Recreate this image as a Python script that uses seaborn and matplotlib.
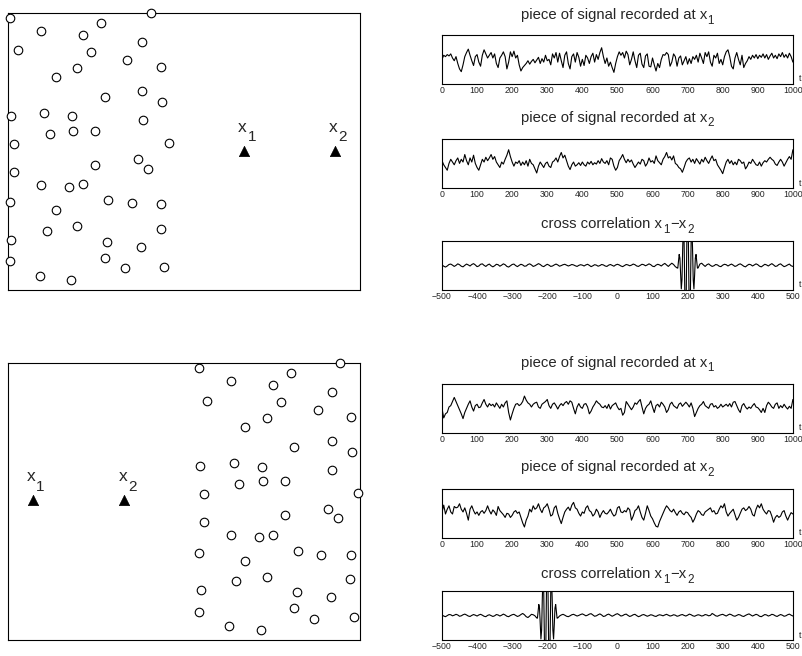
import numpy as np
import matplotlib
matplotlib.use('Agg')
import matplotlib.pyplot as plt
from matplotlib.transforms import Bbox
import seaborn as sns

# --- source / receiver geometry (box coordinates, x 0-10, y 0-7.87) ---
top_src_x = [0.07, 4.06, 0.93, 2.65, 2.13, 3.82, 0.28, 2.37, 3.39, 1.96, 4.36, 1.37,
             3.81, 2.75, 4.39, 0.08, 1.02, 1.82, 3.84, 1.18, 1.85, 2.48, 0.17, 4.57,
             3.70, 3.99, 2.48, 0.17, 0.95, 1.73, 2.13, 0.05, 2.84, 3.53, 4.36, 1.36,
             1.11, 1.95, 4.35, 0.09, 2.82, 3.78, 0.05, 2.75, 3.32, 4.44, 0.90, 1.78]
top_src_y = [7.73, 7.87, 7.37, 7.60, 7.25, 7.06, 6.81, 6.76, 6.55, 6.31, 6.34, 6.05,
             5.66, 5.49, 5.34, 4.94, 5.04, 4.94, 4.83, 4.43, 4.53, 4.51, 4.15, 4.17,
             3.72, 3.45, 3.55, 3.35, 2.98, 2.92, 3.00, 2.50, 2.56, 2.46, 2.43, 2.27,
             1.69, 1.82, 1.74, 1.42, 1.35, 1.23, 0.82, 0.91, 0.62, 0.64, 0.41, 0.28]
top_rec_x = [6.71, 9.29]
top_rec_y = [3.96, 3.96]

bot_src_x = [5.43, 6.33, 8.04, 9.44, 7.52, 5.66, 7.77, 9.22, 8.80, 7.36, 9.75, 6.75,
             8.14, 9.20, 9.79, 5.45, 6.43, 7.21, 9.22, 6.57, 7.24, 7.88, 5.57, 9.94,
             9.10, 9.37, 7.88, 5.56, 6.35, 7.13, 7.52, 5.42, 8.24, 8.91, 9.75, 6.73,
             6.48, 7.35, 9.73, 5.48, 8.22, 9.17, 5.43, 8.14, 8.70, 9.84, 6.29, 7.18]
bot_src_y = [7.73, 7.37, 7.60, 7.87, 7.24, 6.80, 6.76, 7.06, 6.55, 6.31, 6.34, 6.05,
             5.48, 5.65, 5.35, 4.95, 5.03, 4.93, 4.83, 4.44, 4.53, 4.51, 4.15, 4.17,
             3.72, 3.46, 3.55, 3.36, 2.99, 2.92, 2.99, 2.47, 2.53, 2.43, 2.42, 2.25,
             1.68, 1.80, 1.72, 1.41, 1.36, 1.22, 0.81, 0.90, 0.60, 0.64, 0.39, 0.27]
bot_rec_x = [0.70, 3.31]
bot_rec_y = [3.98, 3.98]
rec_labels = ['1', '2']

# --- recorded signals, sampled every 5 time units from 0 to 1000 ---
t = np.arange(0, 1001, 5)

sig_top_x1 = [
    0.0, 0.3, 0.2, 0.35, 0.25, 0.4, 0.1, -0.1, 0.2, -0.3,
    -0.7, -0.9, -0.4, 0.2, 0.5, 0.75, 0.3, -0.1, -0.45, 0.2,
    0.35, -0.2, -0.5, 0.3, 0.7, 0.4, 0.1, 0.3, 0.5, 0.1,
    0.4, -0.3, -0.6, 0.1, 0.3, 0.55, 0.2, -0.7, -0.2, 0.55,
    0.2, 0.6, 0.1, 0.3, -0.4, -0.85, -0.6, -0.45, -0.3, -0.1,
    -0.35, -0.15, 0.0, -0.25, -0.05, 0.15, -0.3, 0.05, -0.2, 0.3,
    -0.1, 0.0, -0.4, 0.4, 0.1, 0.5, -0.2, 0.45, -0.1, -0.6,
    0.3, 0.55, -0.3, -0.7, 0.2, 0.4, -0.2, 0.5, 0.15, -0.5,
    0.0, -0.45, 0.3, 0.1, -0.3, 0.2, 0.45, -0.2, 0.35, 0.0,
    0.5, 0.85, 0.2, -0.3, 0.1, -0.5, -0.2, -0.6, -0.95, -0.3,
    0.2, 0.55, 0.3, 0.5, 0.1, 0.6, 0.35, -0.4, 0.0, 0.55,
    -0.1, -0.6, 0.3, 0.45, -0.35, -0.6, 0.25, 0.4, -0.5, -0.55,
    0.1, -0.4, -0.85, -0.3, -0.6, 0.0, 0.35, 0.3, 0.5, 0.35,
    -0.5, -0.2, 0.4, 0.2, -0.5, 0.1, 0.25, -0.4, -0.1, 0.2,
    -0.35, 0.05, -0.3, 0.2, 0.0, 0.3, -0.2, 0.45, 0.1, -0.3,
    0.5, 0.2, 0.55, -0.2, -0.5, 0.3, 0.1, 0.45, -0.3, 0.0,
    -0.4, 0.2, 0.55, 0.7, 0.2, -0.5, -0.7, 0.1, 0.5, 0.0,
    -0.4, 0.3, -0.6, -0.3, -0.1, 0.2, 0.0, 0.3, 0.1, 0.35,
    0.05, 0.3, 0.15, 0.4, 0.1, 0.35, 0.0, 0.25, 0.45, 0.1,
    0.3, 0.05, 0.4, 0.2, 0.5, 0.15, 0.35, 0.1, 0.45, 0.2,
    -0.2]

sig_top_x2 = [
    0.2, -0.1, -0.3, -0.5, 0.0, 0.3, 0.1, -0.1, 0.2, 0.4,
    0.0, 0.3, 0.1, 0.65, 0.2, -0.1, 0.4, 0.1, 0.6, 0.0,
    -0.3, -0.5, -0.1, 0.3, 0.1, 0.45, 0.2, 0.4, 0.65, 0.3,
    0.5, 0.1, -0.1, -0.3, 0.1, -0.05, 0.3, 0.6, 1.0, 0.5,
    0.1, -0.2, 0.1, 0.0, 0.2, -0.15, 0.1, -0.1, 0.2, -0.2,
    0.3, 0.0, -0.1, -0.4, -0.7, -0.2, 0.1, -0.1, -0.3, 0.0,
    0.1, -0.2, -0.3, 0.1, 0.2, 0.4, 0.1, 0.5, 0.8, 0.4,
    0.6, 0.2, -0.2, -0.45, -0.1, 0.1, -0.2, -0.1, 0.05, -0.15,
    0.1, -0.1, -0.2, 0.1, -0.05, 0.15, -0.1, 0.05, -0.05, 0.2,
    0.0, 0.35, 0.1, 0.0, 0.2, -0.1, 0.4, 0.3, -0.2, -0.5,
    -0.3, 0.2, 0.4, 0.65, 0.3, 0.05, 0.3, 0.1, 0.25, -0.05,
    -0.3, -0.1, 0.1, -0.05, 0.3, 0.2, -0.2, 0.0, 0.4, 0.1,
    0.2, 0.0, 0.55, 0.2, 0.05, -0.1, 0.3, 0.5, 0.8, 0.4,
    0.5, 0.25, 0.55, 0.0, -0.1, -0.3, -0.4, -0.65, -0.3, 0.1,
    0.3, 0.4, 0.1, 0.3, 0.0, 0.35, 0.15, -0.05, 0.3, 0.1,
    0.45, 0.2, 0.0, 0.3, 0.55, 0.2, 0.3, -0.1, -0.3, -0.5,
    -0.75, -0.3, 0.1, 0.3, 0.0, 0.2, -0.1, 0.1, -0.1, 0.3,
    0.2, 0.0, 0.1, -0.4, -0.2, 0.1, 0.0, 0.3, 0.1, -0.1,
    -0.15, 0.1, -0.2, 0.05, 0.2, 0.1, 0.3, 0.45, 0.3, 0.2,
    -0.05, -0.15, 0.1, 0.3, 0.1, -0.2, 0.05, 0.3, 0.5, 0.3,
    1.0]

sig_bot_x1 = [
    0.0, -0.7, -0.4, -0.3, 0.1, 0.2, 0.5, 0.8, 0.5, 0.2,
    -0.1, -0.4, -0.75, -0.3, 0.0, 0.3, 0.55, 0.1, -0.2, 0.2,
    0.3, 0.05, 0.1, 0.4, 0.65, 0.3, 0.1, 0.35, 0.2, 0.3,
    0.1, 0.4, 0.2, 0.0, 0.3, 0.1, 0.4, 0.55, -0.3, -0.85,
    -0.4, 0.0, 0.3, 0.35, 0.2, 0.3, 0.5, 0.9, 0.6, 0.4,
    0.3, 0.1, 0.3, 0.4, 0.45, 0.1, 0.0, 0.3, 0.4, 0.5,
    0.65, 0.2, 0.0, 0.3, 0.4, 0.2, -0.05, 0.2, 0.35, 0.2,
    0.4, 0.5, 0.3, 0.55, 0.45, 0.0, -0.4, 0.1, 0.35, 0.1,
    0.0, 0.3, 0.35, 0.1, -0.4, -0.2, 0.1, 0.3, 0.55, 0.4,
    0.3, 0.1, 0.05, 0.2, 0.0, 0.3, -0.05, 0.2, 0.3, 0.4,
    0.1, -0.1, 0.0, -0.5, -0.3, 0.5, 0.3, 0.1, -0.1, 0.1,
    0.4, 0.3, 0.5, 0.65, 0.1, -0.4, 0.0, 0.2, 0.3, 0.55,
    0.1, -0.3, 0.2, 0.3, 0.1, 0.45, 0.3, 0.1, -0.3, -0.1,
    0.3, 0.45, 0.2, 0.1, 0.0, 0.3, 0.4, 0.15, 0.3, 0.45,
    0.3, 0.1, 0.4, 0.0, -0.6, -0.3, 0.0, 0.2, 0.3, 0.5,
    0.2, 0.1, 0.0, 0.3, 0.35, 0.1, 0.2, 0.0, 0.1, 0.3,
    0.1, 0.2, 0.3, 0.15, 0.35, 0.1, 0.45, 0.5, 0.2, -0.1,
    -0.3, 0.2, 0.35, 0.1, -0.05, 0.1, 0.0, 0.2, 0.35, 0.1,
    0.05, -0.1, -0.3, 0.0, -0.3, 0.2, 0.45, 0.3, 0.1, 0.0,
    0.3, 0.4, 0.0, 0.2, 0.05, 0.3, 0.1, -0.05, 0.15, 0.0,
    0.65]

sig_bot_x2 = [
    0.05, 0.6, -0.05, 0.3, 0.55, 0.1, -0.05, 0.5, 0.4, 0.45,
    0.7, 0.3, 0.1, 0.4, 0.0, -0.5, 0.3, 0.55, 0.2, -0.05,
    0.1, -0.15, 0.1, 0.2, 0.0, 0.2, 0.55, 0.2, -0.05, 0.25,
    0.1, -0.15, 0.5, 0.2, 0.05, -0.1, -0.3, 0.0, -0.05, -0.3,
    -0.15, 0.1, 0.2, 0.0, 0.1, -0.3, -0.7, -1.0, -0.5, -0.2,
    0.3, 0.1, 0.55, 0.3, 0.4, 0.7, 0.3, 0.05, 0.4, 0.5,
    0.7, 0.3, -0.2, -0.1, 0.4, 0.55, 0.0, -0.4, -0.75, -0.3,
    0.1, 0.3, 0.45, 0.2, 0.6, 0.8, 0.4, 0.3, 0.0, -0.2,
    0.1, 0.0, 0.4, 0.55, 0.2, 0.1, -0.2, -0.05, 0.3, 0.1,
    -0.3, 0.0, 0.2, 0.0, -0.05, 0.1, 0.3, 0.0, -0.2, -0.1,
    0.4, 0.5, 0.1, 0.05, 0.2, 0.1, 0.4, 0.25, -0.5, -0.2,
    0.2, 0.3, 0.55, 0.1, -0.3, -0.5, 0.0, 0.55, 0.2, -0.2,
    -0.4, -0.7, -0.95, -1.0, -0.6, -0.3, 0.0, 0.3, 0.55, 0.4,
    0.2, 0.1, 0.3, 0.05, -0.15, 0.1, 0.2, 0.0, -0.1, 0.1,
    0.05, -0.15, -0.3, -0.65, -0.4, -0.05, 0.2, 0.1, -0.1, -0.15,
    0.1, 0.2, 0.3, 0.4, 0.1, 0.2, -0.05, 0.0, 0.3, 0.55,
    0.4, 0.7, 0.1, -0.2, 0.0, 0.15, 0.3, -0.1, -0.5, -0.3,
    0.0, 0.3, 0.4, 0.2, 0.3, 0.5, 0.3, -0.1, -0.2, 0.3,
    0.6, 0.4, 0.7, 0.3, 0.1, -0.05, 0.2, 0.15, -0.2, -0.65,
    -0.3, -0.15, -0.3, -0.2, 0.1, 0.2, -0.2, -0.5, -0.2, 0.05,
    -0.05]

# --- cross correlations: step 5 in the quiet parts, step 2 across the burst ---
lag_top = np.concatenate([np.arange(-500, 170, 5), np.arange(170, 231, 2), np.arange(235, 501, 5)])
cc_top = [
    0.02, -0.04, -0.08, -0.03, 0.04, 0.06, 0.01, -0.05, 0.0, 0.07,
    0.03, -0.04, -0.07, 0.0, 0.06, 0.02, -0.03, 0.04, 0.08, 0.02,
    -0.06, -0.03, 0.05, 0.07, 0.0, -0.05, 0.02, 0.06, -0.02, -0.07,
    -0.02, 0.05, 0.03, -0.04, 0.01, 0.07, 0.03, -0.05, -0.08, -0.02,
    0.04, 0.06, -0.01, -0.06, 0.0, 0.05, 0.02, -0.04, -0.03, 0.04,
    0.07, 0.02, -0.05, -0.02, 0.03, 0.08, 0.04, -0.03, -0.06, 0.0,
    0.05, 0.01, -0.05, -0.03, 0.02, 0.06, 0.02, -0.04, -0.01, 0.03,
    0.05, 0.01, -0.03, 0.0, 0.04, 0.02, -0.02, -0.05, 0.0, 0.03,
    0.01, -0.03, 0.02, 0.05, 0.0, -0.06, -0.02, 0.03, 0.01, -0.04,
    -0.01, 0.04, 0.02, -0.03, -0.05, 0.01, 0.04, 0.0, -0.04, 0.02,
    0.05, 0.02, -0.03, -0.06, -0.01, 0.04, 0.02, -0.02, 0.01, 0.06,
    0.03, -0.03, -0.05, 0.0, 0.05, 0.03, -0.02, 0.02, 0.07, 0.03,
    -0.04, -0.06, 0.01, 0.05, 0.02, -0.03, 0.04, 0.09, 0.02, -0.05,
    0.03, 0.1, 0.04, -0.06,
    # burst 170..230
    -0.12, -0.13, 0.19, 0.51, 0.34, -0.44, -1.1, -0.68, 0.82, 1.92,
    1.1, -1.23, -2.68, -1.43, 1.48, 3.0, 1.48, -1.43, -2.68, -1.23,
    1.1, 1.92, 0.82, -0.68, -1.1, -0.44, 0.34, 0.51, 0.19, -0.13,
    -0.12,
    # 235..500
    0.06, 0.1, 0.02, -0.05, 0.03, 0.07, 0.0, -0.05, -0.02, 0.04,
    0.02, -0.04, -0.06, 0.01, 0.05, 0.03, -0.03, 0.02, 0.06, 0.01,
    -0.05, -0.02, 0.04, 0.07, 0.02, -0.04, -0.07, 0.0, 0.05, 0.03,
    -0.03, 0.02, 0.07, 0.03, -0.04, -0.07, -0.01, 0.05, 0.02, -0.03,
    0.03, 0.08, 0.02, -0.05, -0.03, 0.04, 0.07, 0.0, -0.06, -0.03,
    0.02, 0.06, -0.02, -0.05]

lag_bot = np.concatenate([np.arange(-500, -234, 5), np.arange(-230, -169, 2), np.arange(-165, 501, 5)])
cc_bot = [
    0.02, -0.03, -0.06, -0.01, 0.04, 0.03, -0.02, 0.01, 0.05, 0.02,
    -0.04, -0.02, 0.03, 0.06, 0.02, -0.03, -0.05, 0.0, 0.04, 0.01,
    -0.03, 0.02, 0.05, 0.01, -0.04, -0.06, 0.0, 0.03, -0.01, -0.05,
    -0.02, 0.04, 0.02, -0.03, 0.01, 0.06, 0.02, -0.04, -0.06, -0.01,
    0.03, 0.05, 0.0, -0.05, -0.02, 0.04, 0.09, 0.03, -0.06, -0.1,
    -0.03, 0.05, 0.03, -0.02,
    # burst -230..-170
    -0.12, -0.13, 0.19, 0.51, 0.34, -0.44, -1.1, -0.68, 0.82, 1.92,
    1.1, -1.23, -2.68, -1.43, 1.48, 3.0, 1.48, -1.43, -2.68, -1.23,
    1.1, 1.92, 0.82, -0.68, -1.1, -0.44, 0.34, 0.51, 0.19, -0.13,
    -0.12,
    # -165..500
    -0.03, 0.02, 0.05, 0.01, -0.04, -0.06, -0.02, 0.03, 0.05, 0.01,
    -0.03, 0.0, 0.04, 0.07, 0.03, -0.02, 0.01, 0.06, 0.08, 0.02,
    -0.04, -0.02, 0.03, 0.07, 0.02, -0.05, -0.03, 0.03, 0.06, 0.01,
    -0.04, 0.0, 0.05, 0.08, 0.03, -0.03, -0.01, 0.04, 0.06, 0.0,
    -0.05, -0.02, 0.03, 0.05, -0.01, -0.06, -0.03, 0.02, 0.04, 0.0,
    -0.04, -0.01, 0.03, 0.01, -0.03, -0.05, 0.0, 0.03, 0.01, -0.02,
    0.02, 0.05, 0.01, -0.03, -0.01, 0.03, 0.01, -0.04, -0.02, 0.02,
    0.04, 0.0, -0.03, 0.01, 0.06, 0.03, -0.02, -0.04, 0.0, 0.03,
    0.01, -0.03, -0.01, 0.04, 0.02, -0.02, 0.0, 0.09, 0.04, -0.02,
    -0.04, 0.0, 0.03, 0.05, 0.01, -0.03, 0.02, 0.06, 0.03, -0.02,
    -0.04, 0.0, 0.04, 0.02, -0.03, -0.05, 0.0, 0.04, 0.07, 0.02,
    -0.03, 0.01, 0.05, 0.02, -0.04, -0.06, -0.01, 0.04, 0.02, -0.03,
    0.0, 0.05, 0.03, -0.02, -0.05, 0.0, 0.04, 0.01, -0.04, -0.02,
    0.03, 0.06, 0.01, -0.03]

sns.set_style('white')
plt.rcParams['font.family'] = ['Liberation Sans', 'DejaVu Sans']

fig = plt.figure(figsize=(8.03, 6.56), dpi=100)
label_groups = []  # (first text, all pieces, x anchor, y anchor, transform)


def sub_text(ax, x, y, pieces, transform):
    # pieces: (text, fontsize, vertical offset in points vs the first piece)
    first = ax.text(x, y, pieces[0][0], fontsize=pieces[0][1], transform=transform,
                    ha='left', va='baseline', clip_on=False)
    arts = [first]
    prev = first
    for s, fs, dy in pieces[1:]:
        a = ax.annotate(s, xy=(1, 0), xycoords=(prev, first), xytext=(0.4, dy),
                        textcoords='offset points', fontsize=fs, ha='left', va='bottom',
                        annotation_clip=False)
        arts.append(a)
        prev = a
    label_groups.append((first, arts, x, y, transform))


def geometry_panel(rect, sx, sy, rx, ry):
    ax = fig.add_axes(rect)
    sns.scatterplot(x=sx, y=sy, ax=ax, marker='o', s=38, color='white',
                    edgecolor='black', linewidth=0.8, clip_on=False, zorder=3)
    sns.scatterplot(x=rx, y=ry, ax=ax, marker='^', s=55, color='black',
                    edgecolor='black', linewidth=0.5, zorder=3)
    for xx, yy, lab in zip(rx, ry, rec_labels):
        sub_text(ax, xx + 0.09, yy + 0.54, [('x', 12.5, 0), (lab, 11, -7)], ax.transData)
    ax.set_xlim(0, 10)
    ax.set_ylim(0, 7.87)
    ax.set_xticks([])
    ax.set_yticks([])
    ax.set_xlabel('')
    ax.set_ylabel('')
    for sp in ax.spines.values():
        sp.set_color('black')
        sp.set_linewidth(0.8)
    return ax


def trace_panel(rect, x, y, title, xlim, ylim, ticks, title_y):
    ax = fig.add_axes(rect)
    sns.lineplot(x=x, y=y, ax=ax, color='black', linewidth=0.8)
    ax.set_xlim(*xlim)
    ax.set_ylim(-ylim, ylim)
    ax.set_yticks([])
    ax.set_xticks(ticks)
    ax.tick_params(axis='x', labelsize=6.3, direction='in', length=2, pad=1.5)
    ax.set_xlabel('')
    ax.set_ylabel('')
    sub_text(ax, 0.5, title_y, title, ax.transAxes)
    # time axis label beside the lower right corner, clear of the tick labels
    ax.text(1.016, 0.01, 't', transform=ax.transAxes, ha='left', va='bottom', fontsize=6.5)
    for sp in ax.spines.values():
        sp.set_color('black')
        sp.set_linewidth(0.8)
    return ax


L_left, W_left, H_left = 0.010, 0.438, 0.422
geometry_panel([L_left, 0.558, W_left, H_left], top_src_x, top_src_y, top_rec_x, top_rec_y)
geometry_panel([L_left, 0.0244, W_left, H_left], bot_src_x, bot_src_y, bot_rec_x, bot_rec_y)

L_right, W_right, H_right = 0.5504, 0.437, 0.075
sig_ticks = np.arange(0, 1001, 100)
cc_ticks = np.arange(-500, 501, 100)
title_x1 = [('piece of signal recorded at x', 10.7, 0), ('1', 8.4, -3.5)]
title_x2 = [('piece of signal recorded at x', 10.7, 0), ('2', 8.4, -3.5)]
title_cc = [('cross correlation x', 10.7, 0), ('1', 8.4, -3.5), ('\u2212x', 10.7, 0), ('2', 8.4, -3.5)]

trace_panel([L_right, 0.872, W_right, H_right], t, sig_top_x1, title_x1, (0, 1000), 1.8, sig_ticks, 1.32)
trace_panel([L_right, 0.7134, W_right, H_right], t, sig_top_x2, title_x2, (0, 1000), 1.8, sig_ticks, 1.35)
trace_panel([L_right, 0.558, W_right, H_right], lag_top, cc_top, title_cc, (-500, 500), 1.15, cc_ticks, 1.26)
trace_panel([L_right, 0.340, W_right, H_right], t, sig_bot_x1, title_x1, (0, 1000), 1.8, sig_ticks, 1.35)
trace_panel([L_right, 0.180, W_right, H_right], t, sig_bot_x2, title_x2, (0, 1000), 1.8, sig_ticks, 1.35)
trace_panel([L_right, 0.0244, W_right, H_right], lag_bot, cc_bot, title_cc, (-500, 500), 1.15, cc_ticks, 1.26)

# centre each composed label on its anchor
fig.canvas.draw()
renderer = fig.canvas.get_renderer()
for first, arts, x, y, tr in label_groups:
    bb = Bbox.union([a.get_window_extent(renderer) for a in arts])
    target = tr.transform((x, y))
    shift = target[0] - 0.5 * (bb.x0 + bb.x1)
    start = tr.transform(first.get_position())
    first.set_position(tr.inverted().transform((start[0] + shift, start[1])))

fig.savefig('out.png', dpi=100)
